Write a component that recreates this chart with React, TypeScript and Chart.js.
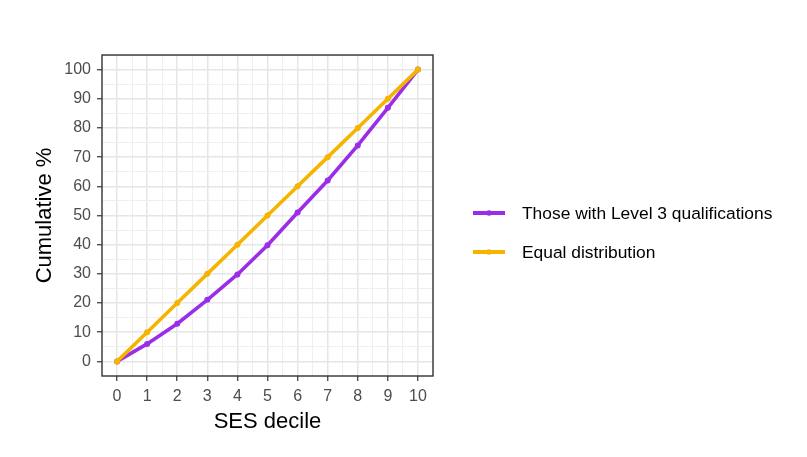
import React, { useEffect, useRef } from 'react';
import Chart from 'chart.js/auto';

const deciles = [0, 1, 2, 3, 4, 5, 6, 7, 8, 9, 10];
const level3Cumulative = [0, 6, 12.9, 21.1, 29.8, 39.8, 51, 62, 74, 86.9, 100];
const equalCumulative = [0, 10, 20, 30, 40, 50, 60, 70, 80, 90, 100];
const seriesLabels = ['Those with Level 3 qualifications', 'Equal distribution'];
const seriesColors = ['#9A2EE8', '#F4B400'];

const FONT = '"Liberation Sans", Arial, sans-serif';

const isMajor = (v: number, major: number) => Math.abs(v / major - Math.round(v / major)) < 1e-6;

const gridColor = (ctx: any, major: number) => {
  const v = ctx.tick ? ctx.tick.value : 0;
  if (ctx.index === 0) return 'rgba(0,0,0,0)';
  return isMajor(v, major) ? '#E6E6E6' : '#EFEFEF';
};

const gridWidth = (ctx: any, major: number) => {
  const v = ctx.tick ? ctx.tick.value : 0;
  return isMajor(v, major) ? 1.5 : 1;
};

const tickColor = (ctx: any, major: number) => {
  const v = ctx.tick ? ctx.tick.value : 0;
  if (v < 0 || v > major * 10) return 'rgba(0,0,0,0)';
  return isMajor(v, major) ? '#333333' : 'rgba(0,0,0,0)';
};

// panel border + legend on the right
const panelPlugin = {
  id: 'panelAndLegend',
  afterDraw(chart: any) {
    const { ctx, chartArea } = chart;
    ctx.save();
    ctx.strokeStyle = '#333333';
    ctx.lineWidth = 1.4;
    ctx.strokeRect(chartArea.left, chartArea.top, chartArea.right - chartArea.left, chartArea.bottom - chartArea.top);

    chart.data.datasets.forEach((ds: any, i: number) => {
      const y = 213 + i * 39;
      ctx.strokeStyle = ds.borderColor;
      ctx.lineWidth = 4;
      ctx.beginPath();
      ctx.moveTo(473, y);
      ctx.lineTo(505, y);
      ctx.stroke();
      ctx.fillStyle = ds.borderColor;
      ctx.beginPath();
      ctx.arc(489, y, 2.8, 0, Math.PI * 2);
      ctx.fill();
      ctx.fillStyle = '#000000';
      ctx.font = `17.4px ${FONT}`;
      ctx.textBaseline = 'middle';
      ctx.fillText(ds.label, 522, y + 1);
    });
    ctx.restore();
  },
};

const App: React.FC = () => {
  const chartRef = useRef<HTMLCanvasElement | null>(null);

  useEffect(() => {
    if (!chartRef.current) return;
    const chartInstance = new Chart(chartRef.current, {
      type: 'line',
      data: {
        datasets: [
          {
            label: seriesLabels[0],
            data: deciles.map((d, i) => ({ x: d, y: level3Cumulative[i] })),
            borderColor: seriesColors[0],
            backgroundColor: seriesColors[0],
            borderWidth: 3.6,
            pointRadius: 3,
            pointBorderWidth: 0,
            order: 1,
          },
          {
            label: seriesLabels[1],
            data: deciles.map((d, i) => ({ x: d, y: equalCumulative[i] })),
            borderColor: seriesColors[1],
            backgroundColor: seriesColors[1],
            borderWidth: 3.6,
            pointRadius: 3,
            pointBorderWidth: 0,
            order: 0,
          },
        ],
      },
      options: {
        responsive: false,
        animation: false,
        layout: { padding: { top: 55, right: 374, left: 0, bottom: 0 } },
        plugins: { legend: { display: false }, tooltip: { enabled: false } },
        scales: {
          x: {
            type: 'linear',
            min: -0.5,
            max: 10.5,
            afterFit: (scale: any) => { scale.height = 81; },
            border: { display: false },
            grid: {
              color: (ctx: any) => gridColor(ctx, 1),
              lineWidth: (ctx: any) => gridWidth(ctx, 1),
              tickColor: (ctx: any) => tickColor(ctx, 1),
              tickLength: 5,
              tickWidth: 1.2,
            },
            ticks: {
              stepSize: 0.5,
              autoSkip: false,
              maxRotation: 0,
              padding: 6,
              color: '#4D4D4D',
              font: { family: FONT, size: 16 },
              callback: (v: any) => (Number.isInteger(v) && v >= 0 && v <= 10 ? String(v) : ''),
            },
            title: {
              display: true,
              text: 'SES decile',
              color: '#000000',
              font: { family: FONT, size: 22 },
              padding: { top: 0, bottom: 22 },
            },
          },
          y: {
            type: 'linear',
            min: -5,
            max: 105,
            afterFit: (scale: any) => { scale.width = 102; },
            border: { display: false },
            grid: {
              color: (ctx: any) => gridColor(ctx, 10),
              lineWidth: (ctx: any) => gridWidth(ctx, 10),
              tickColor: (ctx: any) => tickColor(ctx, 10),
              tickLength: 5,
              tickWidth: 1.2,
            },
            ticks: {
              stepSize: 5,
              autoSkip: false,
              padding: 6,
              color: '#4D4D4D',
              font: { family: FONT, size: 16 },
              callback: (v: any) => (v % 10 === 0 && v >= 0 && v <= 100 ? String(v) : ''),
            },
            title: {
              display: true,
              text: 'Cumulative %',
              color: '#000000',
              font: { family: FONT, size: 22 },
              padding: { top: 32, bottom: 0 },
            },
          },
        },
      },
      plugins: [panelPlugin],
    });

    return () => {
      chartInstance.destroy();
    };
  }, []);

  return (
    <div style={{ position: 'fixed', left: 0, top: 0, width: 807, height: 457, background: '#ffffff' }}>
      <canvas ref={chartRef} width={807} height={457} style={{ width: 807, height: 457 }}></canvas>
    </div>
  );
};

export default App;
